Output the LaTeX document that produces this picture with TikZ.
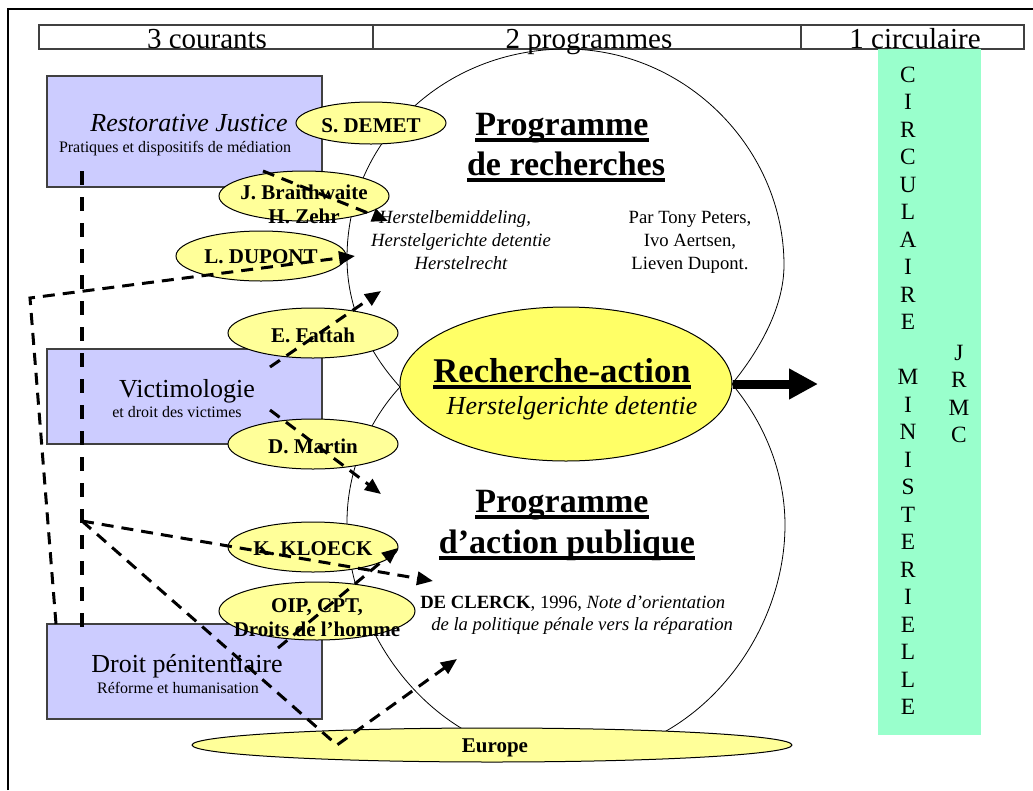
\documentclass[tikz,border=0pt]{standalone}
\usepackage{fontspec}
\setmainfont{Liberation Serif}
\usetikzlibrary{arrows.meta}
\usetikzlibrary{shapes.geometric}

\definecolor{bleucourant}{RGB}{204,204,255}
\definecolor{jaunepale}{RGB}{255,255,153}
\definecolor{jaunevif}{RGB}{255,255,102}
\definecolor{vertcirc}{RGB}{153,255,204}

\newcommand{\soulgras}[1]{\sbox0{#1}\rlap{\rule[-5pt]{\wd0}{2.4pt}}\usebox0}

\tikzset{
  courant/.style={draw=black!75, fill=bleucourant, line width=0.9pt},
  auteur/.style={draw, fill=jaunepale, line width=0.75pt},
  nom/.style={inner sep=0pt, align=center, font=\bfseries\fontsize{15.75}{18}\selectfont},
  entete/.style={inner sep=0pt, font=\fontsize{21.75}{26}\selectfont},
  titrecourant/.style={inner sep=0pt, font=\fontsize{19.5}{23}\selectfont},
  soustitre/.style={inner sep=0pt, font=\fontsize{12}{14}\selectfont},
  programme/.style={inner sep=0pt, font=\bfseries\fontsize{25.5}{30}\selectfont},
  petit/.style={inner sep=0pt, font=\fontsize{14}{17}\selectfont},
  lettres/.style={inner sep=0pt, align=center, font=\fontsize{17.5}{20.625}\selectfont},
  lien/.style={line width=2.25pt, dash pattern=on 9pt off 6pt, -{Triangle[length=12pt,width=10pt]}},
}

\begin{document}
\begin{tikzpicture}[x=0.75pt,y=0.75pt,yscale=-1,xscale=1]
\useasboundingbox (0,0) rectangle (1033,790);

%Shape: Frame
\draw [line width=1.5pt] (8,790) -- (8,9) -- (1033,9) ;
%Shape: Rectangle (header)
\draw [color=black!75, line width=0.9pt] (39,25) rectangle (1024,49) ;
\draw [color=black!75, line width=0.9pt] (373,25) -- (373,49) ;
\draw [color=black!75, line width=0.9pt] (801,25) -- (801,49) ;

%Curve Lines: programme de recherches
\draw [line width=0.6pt] (400,387) .. controls (362,345) and (347,300) .. (347,258) .. controls (347,140) and (445,49) .. (566,49) .. controls (687,49) and (784,150) .. (784,265) .. controls (784,305) and (762,347) .. (732,384) ;
%Curve Lines: programme d'action publique
\draw [line width=0.6pt] (400,387) .. controls (365,425) and (347,475) .. (347,522) .. controls (347,640) and (440,758) .. (566,758) .. controls (692,758) and (785,640) .. (785,525) .. controls (785,475) and (766,425) .. (732,384) ;

%Shape: Rectangle
\draw [courant] (47,76) rectangle (322,187) ;
%Shape: Rectangle
\draw [courant] (47,349) rectangle (322,444) ;
%Shape: Rectangle
\draw [courant] (47,624) rectangle (322,719) ;
%Shape: Rectangle (circulaire)
\fill [vertcirc] (878,49) rectangle (981,735) ;

%Shape: Ellipse
\draw [auteur] (371,123) ellipse (75 and 21) ;
%Shape: Ellipse
\draw [auteur] (304,196) ellipse (85 and 25) ;
%Shape: Ellipse
\draw [auteur] (261,256) ellipse (85 and 25) ;
%Shape: Ellipse
\draw [auteur] (313,333) ellipse (85 and 25) ;
%Shape: Ellipse
\draw [auteur] (313,444) ellipse (85 and 25) ;
%Shape: Ellipse
\draw [auteur] (313,547) ellipse (85 and 25) ;
%Shape: Ellipse
\draw [auteur] (317,611) ellipse (98 and 29) ;
%Shape: Ellipse
\draw [auteur] (492,745) ellipse (300 and 17) ;
%Shape: Ellipse
\node [ellipse, draw, fill=jaunevif, line width=0.75pt, inner sep=0pt, minimum width=249pt, minimum height=115.5pt] (recherche) at (566,384) {};

% Text Node
\node [entete, anchor=base] (courants) at (207,48) {3 courants};
% Text Node
\node [entete, anchor=base] (programmes) at (589,48) {2 programmes};
% Text Node
\node [entete, anchor=base] (circulaire) at (915,48) {1 circulaire};

% Text Node
\node [titrecourant, anchor=base] (restor) at (189,131) {\itshape Restorative Justice};
% Text Node
\node [soustitre, anchor=base] (restorsous) at (175,152) {Pratiques et dispositifs de médiation};
% Text Node
\node [titrecourant, anchor=base] (victimo) at (187,397) {Victimologie};
% Text Node
\node [soustitre, anchor=base] (victimosous) at (177,417) {et droit des victimes};
% Text Node
\node [titrecourant, anchor=base] (penit) at (187,672) {Droit pénitentiaire};
% Text Node
\node [soustitre, anchor=base] (penitsous) at (178,693) {Réforme et humanisation};

% Text Node
\node [nom, anchor=base] (demet) at (371,132) {S. DEMET};
% Text Node
\node [nom] (braith) at (304,204) {J. Braithwaite\\H. Zehr};
% Text Node
\node [nom, anchor=base] (dupont) at (261,263) {L. DUPONT};
% Text Node
\node [nom, anchor=base] (fattah) at (313,342) {E. Fattah};
% Text Node
\node [nom, anchor=base] (martin) at (313,453) {D. Martin};
% Text Node
\node [nom, anchor=base] (kloeck) at (313,555) {K. KLOECK};
% Text Node
\node [nom] (oip) at (317,618) {OIP, CPT,\\Droits de l’homme};
% Text Node
\node [nom, anchor=base] (europe) at (495,752) {Europe};

% Text Node
\node [programme, anchor=base] (progrech) at (562,135) {\soulgras{Programme}};
% Text Node
\node [programme, anchor=base] (derech) at (566,175) {\soulgras{de recherches}};
% Text Node
\node [petit, anchor=base] (herstel1) at (455,223) {\itshape Herstelbemiddeling,};
% Text Node
\node [petit, anchor=base] (herstel2) at (461,246) {\itshape Herstelgerichte detentie};
% Text Node
\node [petit, anchor=base] (herstel3) at (461,269) {\itshape Herstelrecht};
% Text Node
\node [petit, anchor=base] (peters) at (690,223) {Par Tony Peters,};
% Text Node
\node [petit, anchor=base] (aertsen) at (690,246) {Ivo Aertsen,};
% Text Node
\node [petit, anchor=base] (lieven) at (690,269) {Lieven Dupont.};

% Text Node
\node [programme, anchor=base, font=\bfseries\fontsize{26}{30}\selectfont] (rechact) at (562,382) {\soulgras{Recherche-action}};
% Text Node
\node [titrecourant, anchor=base] (detentie) at (572,414) {\itshape Herstelgerichte detentie};

% Text Node
\node [programme, anchor=base] (progact) at (562,512) {\soulgras{Programme}};
% Text Node
\node [programme, anchor=base] (actpub) at (567,553) {\soulgras{d’action publique}};
% Text Node
\node [petit, anchor=base west] (clerck1) at (420,608) {\textbf{DE CLERCK}, 1996, \textit{Note d’orientation}};
% Text Node
\node [petit, anchor=base west] (clerck2) at (431,630) {\itshape de la politique pénale vers la réparation};

% Text Node
\node [lettres] (circmin) at (908,391) {C\\I\\R\\C\\U\\L\\A\\I\\R\\E\\[20.625pt]M\\I\\N\\I\\S\\T\\E\\R\\I\\E\\L\\L\\E};
% Text Node
\node [lettres] (jrmc) at (959,394) {J\\R\\M\\C};

% dashed links
\coordinate (vHaut) at (82,171);
\coordinate (vBas) at (82,632);
\coordinate (jonction) at (82,521);
\coordinate (boucleDep) at (56,624);
\coordinate (boucleCoin) at (30,298);
\coordinate (dupontFin) at (355,256);
\coordinate (braithDep) at (263,171);
\coordinate (braithFin) at (388,221);
\coordinate (fattahDep) at (270,367);
\coordinate (fattahFin) at (381,291);
\coordinate (martinDep) at (270,410);
\coordinate (martinFin) at (381,494);
\coordinate (clerckFin) at (433,581);
\coordinate (europeCoin) at (337,745);
\coordinate (europeFin) at (457,659);
\coordinate (oipDep) at (278,648);
\coordinate (oipFin) at (398,548);
\coordinate (circFleche) at (818,384);

%Straight Lines
\draw [line width=3pt, dash pattern=on 10.5pt off 9pt] (vHaut) -- (vBas) ;
%Straight Lines
\draw [lien] (boucleDep) -- (boucleCoin) -- (dupontFin) ;
%Straight Lines
\draw [lien] (braithDep) -- (braithFin) ;
%Straight Lines
\draw [lien] (fattahDep) -- (fattahFin) ;
%Straight Lines
\draw [lien] (martinDep) -- (martinFin) ;
%Straight Lines
\draw [lien] (jonction) -- (clerckFin) ;
%Straight Lines
\draw [lien] (jonction) -- (europeCoin) -- (europeFin) ;
%Straight Lines
\draw [lien] (oipDep) -- (oipFin) ;
%Straight Lines
\draw [line width=6.75pt, -{Triangle[length=21.75pt,width=21.75pt]}] (recherche.east) -- (circFleche) ;

\end{tikzpicture}
\end{document}
